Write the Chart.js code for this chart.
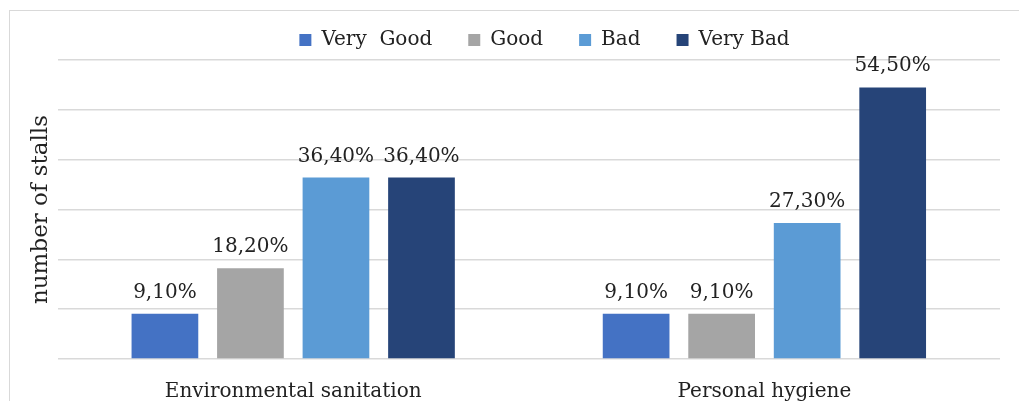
<!DOCTYPE html>
<html>
<head>
<meta charset="utf-8">
<script src="https://cdn.jsdelivr.net/npm/chart.js@4"></script>
<style>
  html, body { margin: 0; padding: 0; background: #fff; overflow: hidden; }
  #wrap { position: relative; width: 1019px; height: 401px; }
  #frame { position: absolute; left: 9px; top: 10px; width: 1030px; height: 420px; border: 1px solid #d9d9d9; }
  canvas { position: absolute; left: 0; top: 0; }
</style>
</head>
<body>
<div id="wrap">
  <div id="frame"></div>
  <canvas id="stalls_chart" width="1019" height="401"></canvas>
</div>
<script>
const categories = ["Environmental sanitation", "Personal hygiene"];
const veryGood = [9.1, 9.1];
const good = [18.2, 9.1];
const bad = [36.4, 27.3];
const veryBad = [36.4, 54.5];

const FONT = "'DejaVu Serif', serif";

// writes the value above every bar, like 9,10%
const valueLabels = {
    id: 'valueLabels',
    afterDatasetsDraw(chart) {
        const ctx = chart.ctx;
        ctx.save();
        ctx.font = "20px " + FONT;
        ctx.fillStyle = "#222";
        ctx.textAlign = "center";
        ctx.textBaseline = "alphabetic";
        chart.data.datasets.forEach(function (ds, i) {
            chart.getDatasetMeta(i).data.forEach(function (bar, j) {
                const txt = ds.data[j].toFixed(2).replace('.', ',') + '%';
                ctx.fillText(txt, bar.x, bar.y - 16);
            });
        });
        ctx.restore();
    }
};

// legend sits a bit right of the centre in the original
const legendShift = {
    id: 'legendShift',
    afterLayout(chart) {
        chart.legend.left += 33;
        chart.legend.right += 33;
    }
};

function createStallsChart() {
    const el = document.getElementById("stalls_chart");
    const data = {
        labels: categories,
        datasets: [
            { label: 'Very  Good', data: veryGood, backgroundColor: '#4472C4' },
            { label: 'Good', data: good, backgroundColor: '#A5A5A5' },
            { label: 'Bad', data: bad, backgroundColor: '#5B9BD5' },
            { label: 'Very Bad', data: veryBad, backgroundColor: '#264478' }
        ]
    };

    const config = {
        type: 'bar',
        data: data,
        options: {
            responsive: false,
            animation: false,
            layout: { padding: { left: 23, right: 19, top: -6, bottom: -24 } },
            datasets: {
                bar: { categoryPercentage: 0.726, barPercentage: 0.78 }
            },
            scales: {
                x: {
                    grid: { display: false, drawTicks: false },
                    border: { display: false },
                    ticks: { color: "#222", font: { family: FONT, size: 20 }, padding: 21 }
                },
                y: {
                    min: 0,
                    max: 60,
                    ticks: { display: false, stepSize: 10 },
                    grid: { color: "#d9d9d9", lineWidth: 1.5, drawTicks: false },
                    border: { display: false },
                    title: {
                        display: true,
                        text: 'number of stalls',
                        color: "#222",
                        font: { family: FONT, size: 23 },
                        padding: { top: 4, bottom: 3 }
                    }
                }
            },
            plugins: {
                legend: {
                    display: true,
                    labels: {
                        color: "#222",
                        font: { family: FONT, size: 20 },
                        boxWidth: 12,
                        boxHeight: 12,
                        padding: 36
                    }
                },
                tooltip: { enabled: false }
            }
        },
        plugins: [valueLabels, legendShift]
    };

    return new Chart(el, config);
}

createStallsChart();
</script>
</body>
</html>
